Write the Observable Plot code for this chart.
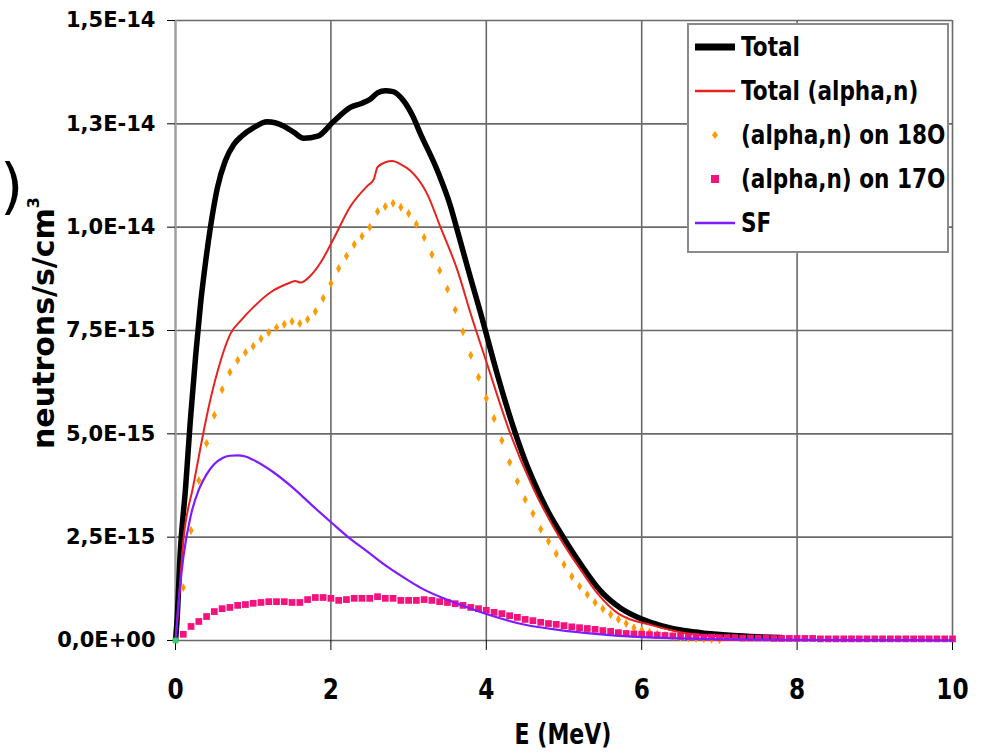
<!DOCTYPE html>
<html><head><meta charset="utf-8">
<script src="https://cdn.jsdelivr.net/npm/d3@7"></script>
<script src="https://cdn.jsdelivr.net/npm/@observablehq/plot@0.6"></script>
<style>
body{margin:0;background:#fff;font-family:"DejaVu Sans",Verdana,sans-serif;}
#wrap{position:relative;width:985px;height:752px;overflow:hidden;}
#legend{position:absolute;left:687px;top:23px;width:258px;height:226px;border:2px solid #8a8a8a;background:#fff;}
.row{position:absolute;left:0;height:40px;width:258px;}
.row svg{position:absolute;left:2px;top:0;}
.row span{position:absolute;left:52px;top:5px;font-weight:bold;font-size:27px;line-height:30px;color:#000;white-space:nowrap;transform:scaleX(0.8);transform-origin:left center;}
#ylab{position:absolute;left:39px;top:323px;transform:translate(-50%,-50%) rotate(-90deg);font-weight:bold;font-size:30px;line-height:34px;white-space:nowrap;}
#ylab sup{font-size:16px;vertical-align:15px;}
#xlab{position:absolute;left:563px;top:734px;transform:translate(-50%,-50%) scaleX(0.76);font-weight:bold;font-size:29px;line-height:32px;white-space:nowrap;}
#paren{position:absolute;left:0px;top:154px;font-size:60px;line-height:64px;color:#000;}
</style></head><body><div id="wrap"></div>
<script>
// Values in units of 1e-15 neutrons/s/cm3
const totalE = [0,0.02,0.06,0.13,0.19,0.26,0.32,0.39,0.45,0.54,0.64,0.75,0.85,1.0,1.18,1.39,1.52,1.65,1.83,2.03,2.25,2.4,2.51,2.6,2.7,2.8,2.93,3.05,3.15,3.37,3.54,3.63,3.8,3.93,4.14,4.35,4.5,4.61,4.8,5.0,5.21,5.47,5.73,6.0,6.25,6.54,6.85,7.18,7.5,7.8];
const totalV = [0,0.5,2.1,3.7,5.3,6.9,8.1,9.2,10.0,10.96,11.6,12.0,12.2,12.4,12.55,12.45,12.3,12.15,12.2,12.55,12.9,13.0,13.1,13.25,13.3,13.28,13.07,12.7,12.27,11.37,10.5,9.9,8.75,7.9,6.45,5.15,4.35,3.85,3.1,2.47,1.86,1.2,0.78,0.52,0.36,0.24,0.17,0.12,0.09,0.07];

const alphaE = [0,0.02,0.1,0.23,0.32,0.41,0.54,0.71,0.84,1.0,1.22,1.48,1.54,1.61,1.74,1.87,2.03,2.25,2.47,2.55,2.6,2.7,2.79,2.9,3.02,3.24,3.41,3.63,3.8,4.0,4.31,4.6,4.95,5.2,5.43,5.7,6.15,6.5,7.0];
const alphaV = [0,0.4,2.4,3.75,4.65,5.5,6.5,7.43,7.74,8.06,8.42,8.66,8.7,8.66,8.83,9.15,9.7,10.5,11.0,11.15,11.45,11.57,11.6,11.52,11.37,10.8,10.0,8.95,7.9,6.75,5.0,3.7,2.47,1.75,1.14,0.65,0.36,0.2,0.1];

const o18E = [0.1,0.2,0.3,0.4,0.5,0.6,0.7,0.8,0.9,1.0,1.1,1.2,1.3,1.4,1.5,1.6,1.7,1.8,1.9,2.0,2.1,2.2,2.3,2.4,2.5,2.6,2.7,2.8,2.9,3.0,3.1,3.2,3.3,3.4,3.5,3.6,3.7,3.8,3.9,4.0,4.1,4.2,4.3,4.4,4.5,4.6,4.7,4.8,4.9,5.0,5.1,5.2,5.3,5.4,5.5,5.6,5.7,5.8,5.9,6.0,6.1,6.2,6.3,6.4,6.5,6.6,6.7,6.8,6.9,7.0];
const o18V = [1.28,2.66,3.87,4.77,5.45,6.07,6.49,6.78,6.97,7.12,7.3,7.45,7.57,7.65,7.72,7.67,7.77,7.96,8.28,8.64,9.0,9.3,9.58,9.78,10.0,10.38,10.5,10.58,10.48,10.33,10.07,9.75,9.34,8.95,8.5,8.0,7.47,6.9,6.37,5.86,5.37,4.84,4.31,3.85,3.41,3.07,2.69,2.4,2.1,1.84,1.55,1.31,1.11,0.92,0.77,0.63,0.51,0.41,0.31,0.25,0.2,0.16,0.13,0.1,0.08,0.06,0.05,0.04,0.03,0.02];

const o17E = [0.1,0.2,0.3,0.4,0.5,0.6,0.7,0.8,0.9,1.0,1.1,1.2,1.3,1.4,1.5,1.6,1.7,1.8,1.9,2.0,2.1,2.2,2.3,2.4,2.5,2.6,2.7,2.8,2.9,3.0,3.1,3.2,3.3,3.4,3.5,3.6,3.7,3.8,3.9,4.0,4.1,4.2,4.3,4.4,4.5,4.6,4.7,4.8,4.9,5.0,5.1,5.2,5.3,5.4,5.5,5.6,5.7,5.8,5.9,6.0,6.1,6.2,6.3,6.4,6.5,6.6,6.7,6.8,6.9,7.0,7.1,7.2,7.3,7.4,7.5,7.6,7.7,7.8,7.9,8.0,8.1,8.2,8.3,8.4,8.5,8.6,8.7,8.8,8.9,9.0,9.1,9.2,9.3,9.4,9.5,9.6,9.7,9.8,9.9,10.0];
const o17V = [0.15,0.34,0.46,0.58,0.7,0.77,0.8,0.85,0.87,0.9,0.92,0.94,0.94,0.94,0.92,0.92,0.99,1.04,1.04,1.02,0.97,0.99,1.02,1.02,1.02,1.06,1.02,1.02,0.97,0.97,0.97,0.99,0.97,0.94,0.92,0.89,0.85,0.8,0.77,0.73,0.68,0.65,0.6,0.56,0.51,0.48,0.44,0.41,0.39,0.36,0.33,0.31,0.29,0.27,0.24,0.22,0.19,0.17,0.16,0.15,0.14,0.13,0.12,0.11,0.1,0.09,0.09,0.08,0.08,0.07,0.07,0.07,0.06,0.06,0.06,0.06,0.05,0.05,0.05,0.05,0.05,0.05,0.04,0.04,0.04,0.04,0.04,0.04,0.04,0.04,0.04,0.04,0.04,0.04,0.04,0.04,0.04,0.04,0.04,0.04];

const sfE = [0,0.02,0.1,0.2,0.3,0.4,0.5,0.6,0.7,0.8,0.9,1.0,1.26,1.52,1.74,2.02,2.21,2.47,2.73,3.0,3.15,3.45,3.7,4.0,4.5,4.95,5.4,6.0,6.5,7.0,8.0,9.0,10.0];
const sfV = [0,0.5,2.0,3.05,3.65,4.02,4.27,4.41,4.47,4.48,4.45,4.37,4.07,3.68,3.3,2.83,2.52,2.15,1.78,1.45,1.28,1.02,0.84,0.64,0.38,0.25,0.16,0.08,0.05,0.03,0.015,0.01,0.005];

const originE = [0];
const originV = [0];

const xTicks = [0,2,4,6,8,10];
const yTicks = [0,2.5,5,7.5,10,12.5,15];
const yTickLabels = ["0,0E+00","2,5E-15","5,0E-15","7,5E-15","1,0E-14","1,3E-14","1,5E-14"];
const seriesNames = ["Total","Total (alpha,n)","(alpha,n) on 18O","(alpha,n) on 17O","SF"];

const U = 1e-15;
const toRows = (E, V) => E.map((e, i) => ({x: e, y: V[i] * U}));
const total = toRows(totalE, totalV);
const alpha = toRows(alphaE, alphaV);
const o18 = toRows(o18E, o18V);
const o17 = toRows(o17E, o17V);
const sf = toRows(sfE, sfV);
const origin = toRows(originE, originV);

const chart = Plot.plot({
  width: 985, height: 752,
  marginLeft: 175, marginRight: 33, marginTop: 20, marginBottom: 112,
  style: {fontFamily: '"DejaVu Sans", Verdana, sans-serif', background: "transparent"},
  x: {domain: [0, 10]},
  y: {domain: [0, 15 * U]},
  marks: [
    Plot.gridY(yTicks.map(d => d * U), {stroke: "#6a6a6a", strokeOpacity: 1, strokeWidth: 1.6}),
    Plot.gridX(xTicks.slice(1), {stroke: "#6a6a6a", strokeOpacity: 1, strokeWidth: 1.6}),
    Plot.ruleX([0], {stroke: "#a0a0a0", strokeWidth: 2.5}),
    Plot.axisY(yTicks.map(d => d * U), {
      tickFormat: (d, i) => yTickLabels[i], tickSize: 8, tickPadding: 12,
      fontSize: 21, fontWeight: "bold", fill: "#000", label: null
    }),
    Plot.axisX(xTicks, {
      tickSize: 10, tickPadding: 28, fontSize: 29, fontWeight: "bold", label: null
    }),
    Plot.line(total, {x: "x", y: "y", stroke: "#000", strokeWidth: 5.5, curve: "monotone-x"}),
    Plot.line(alpha, {x: "x", y: "y", stroke: "#e8221f", strokeWidth: 2, curve: "monotone-x"}),
    Plot.dot(o18, {x: "x", y: "y", symbol: "diamond", fill: "#ff9a00", r: 2.7, stroke: null}),
    Plot.dot(o17, {x: "x", y: "y", symbol: "square", fill: "#f5127d", r: 3.8, stroke: null}),
    Plot.line(sf, {x: "x", y: "y", stroke: "#7f1bff", strokeWidth: 2.2, curve: "monotone-x"}),
    Plot.dot(origin, {x: "x", y: "y", symbol: "square", fill: "#2fd36a", r: 3.2, stroke: null})
  ]
});

// narrow the bold x tick glyphs like the reference
chart.querySelectorAll('g[aria-label="x-axis tick label"] text').forEach(t => {
  t.setAttribute("transform", (t.getAttribute("transform") || "") + " scale(0.8,1)");
});

const wrap = document.getElementById("wrap");
wrap.appendChild(chart);

// legend
const legend = document.createElement("div");
legend.id = "legend";
const samples = [
  '<line x1="4" y1="20" x2="44" y2="20" stroke="#000" stroke-width="7"/>',
  '<line x1="4" y1="20" x2="44" y2="20" stroke="#e8221f" stroke-width="2.5"/>',
  '<path d="M24 16 L27 20 L24 24 L21 20 Z" fill="#ff9a00"/>',
  '<rect x="20" y="16" width="8" height="8" fill="#f5127d"/>',
  '<line x1="4" y1="20" x2="44" y2="20" stroke="#7f1bff" stroke-width="2.5"/>'
];
const rowTops = [2, 46, 90, 134, 178];
seriesNames.forEach((name, i) => {
  const row = document.createElement("div");
  row.className = "row";
  row.style.top = rowTops[i] + "px";
  row.innerHTML = `<svg width="50" height="40">${samples[i]}</svg><span>${name}</span>`;
  legend.appendChild(row);
});
wrap.appendChild(legend);

const ylab = document.createElement("div");
ylab.id = "ylab";
ylab.innerHTML = 'neutrons/s/cm<sup>3</sup>';
wrap.appendChild(ylab);

const xlab = document.createElement("div");
xlab.id = "xlab";
xlab.textContent = "E (MeV)";
wrap.appendChild(xlab);

const paren = document.createElement("div");
paren.id = "paren";
paren.textContent = ")";
wrap.appendChild(paren);
</script>
</body></html>
